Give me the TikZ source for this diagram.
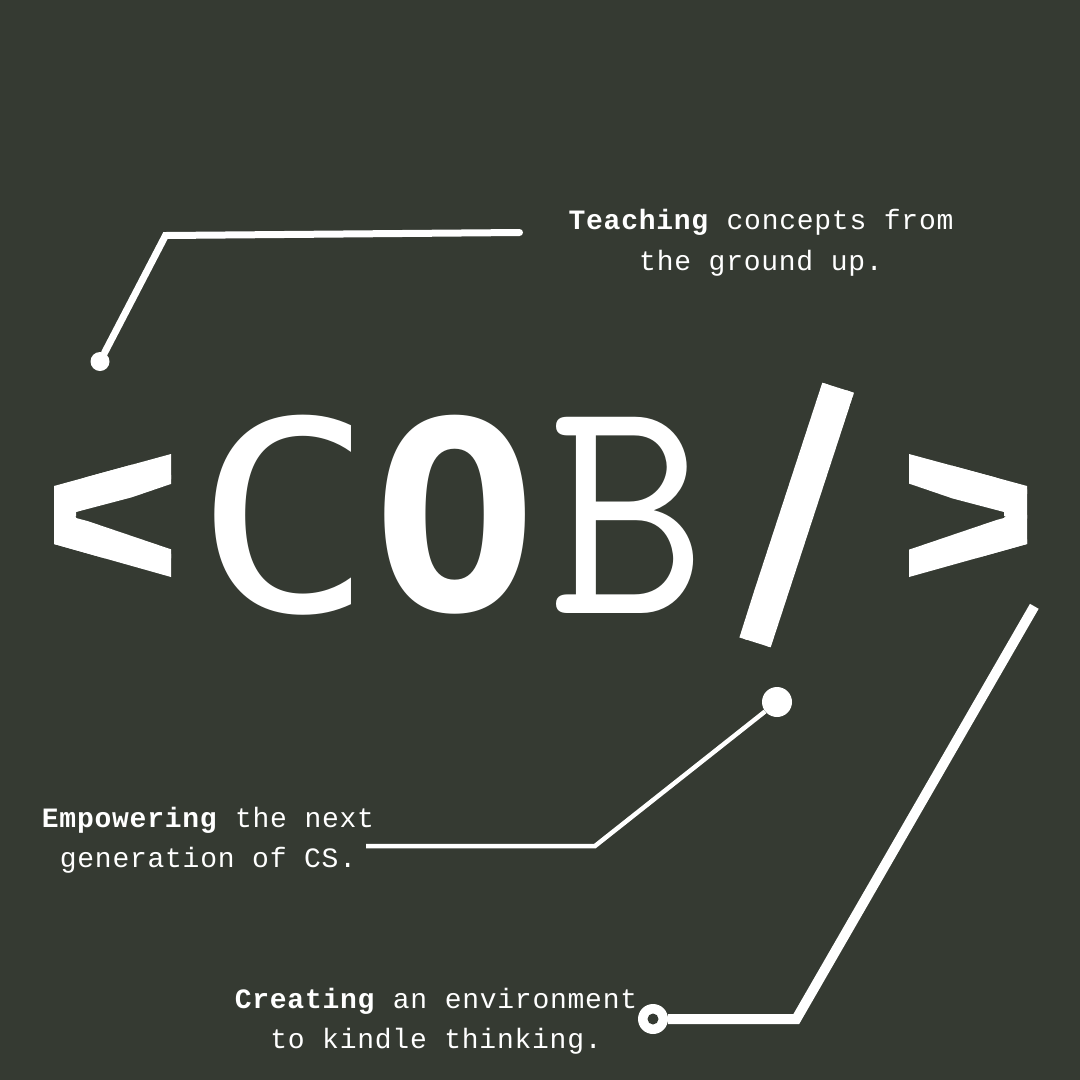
\documentclass[tikz,border=0pt]{standalone}
\usepackage{fontspec}
\newfontfamily\labelfont[LetterSpace=2.7]{Liberation Mono}
\newfontfamily\logofont{DejaVu Sans Mono}
\newfontfamily\heavyfont[FakeBold=3]{DejaVu Sans Mono}
\newfontfamily\slabfont{Latin Modern Mono}
\definecolor{boardgray}{HTML}{353A32}
\tikzset{
	blurb/.style={text=white, align=center, font=\labelfont\fontsize{28}{40.5}\selectfont, inner sep=0pt},
	logo/.style={text=white, inner sep=0pt, font=\logofont\fontsize{280}{280}\selectfont},
	heavy/.style={text=white, inner sep=0pt, font=\heavyfont\fontsize{280}{280}\selectfont},
	slab/.style={text=white, inner sep=0pt, font=\slabfont\fontsize{336}{336}\selectfont},
	dot/.style={circle, fill=white, inner sep=0pt},
	wire/.style={draw=white, line join=miter}
}
\begin{document}
\begin{tikzpicture}[x=1pt,y=-1pt]
	\fill[color=boardgray] (0,0) rectangle (1080,1080);
	\useasboundingbox (0,0) rectangle (1080,1080);
	
	% logo
	
	\begin{scope}
		\clip (171,454) -- (54,486) -- (54,544) -- (171,577) -- (171,543) -- (76,518) -- (76,512) -- (171,487) -- cycle;
		\node[heavy, xscale=1.05, yscale=1.0] (lt) at (100,524) {\textbf{<}};
	\end{scope}
	
	\node[logo, xscale=1.07, yscale=0.945] (c) at (285,515) {C};
	
	\node[logo, xscale=0.98, yscale=0.94] (o) at (455,515) {\textbf{O}};
	
	\node[slab, xscale=0.913, yscale=0.956] (b) at (627,515) {B};
	
	\begin{scope}
		\clip (822.3,382.7) -- (854,392.7) -- (770.7,647.3) -- (739,637.3) -- cycle;
		\node[heavy, xscale=0.95, yscale=1.4] (sl) at (797,515) {\textbf{/}};
	\end{scope}
	
	\begin{scope}
		\clip (909,454) -- (1027,486) -- (1027,544) -- (909,577) -- (909,543) -- (1004,518) -- (1004,512) -- (909,487) -- cycle;
		\node[heavy, xscale=1.05, yscale=1.0] (gt) at (981,524) {\textbf{>}};
	\end{scope}
	
	% blurbs
	
	\node[blurb] (teach) at (761,243) {\textbf{Teaching} concepts from\\the ground up.};
	
	\node[blurb] (power) at (208,840) {\textbf{Empowering} the next\\generation of CS.};
	
	\node[blurb] (make) at (436,1021) {\textbf{Creating} an environment\\to kindle thinking.};
	
	% wires
	
	\node[dot, minimum size=19pt] (d1) at (100,361.5) {};
	
	\coordinate (e1) at (519.5,232.5);
	
	\draw[wire, line width=7pt, line cap=round] (d1) -- (165.5,235.5) -- (e1);
	
	\node[dot, minimum size=30pt] (d2) at (777,702) {};
	
	\coordinate (e2) at (366,846);
	
	\draw[wire, line width=4.5pt] (d2) -- (595,846) -- (e2);
	
	\coordinate (e3) at (1034.3,606.3);
	
	\node[dot, minimum size=30pt] (d3) at (653,1019) {};
	
	\draw[wire, line width=10pt] (d3) -- (796.3,1019) -- (e3);
	
	\node[circle, fill=boardgray, minimum size=11pt, inner sep=0pt] (h3) at (d3) {};
	
\end{tikzpicture}
\end{document}
